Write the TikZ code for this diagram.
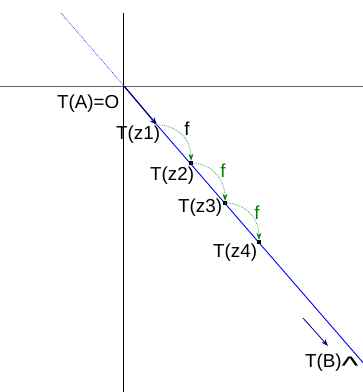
\documentclass[tikz,border=0pt]{standalone}
\usepackage{fontspec}
\usepackage{graphicx}
\setmainfont{Liberation Sans}
\usetikzlibrary{arrows.meta}
\definecolor{navy}{RGB}{0,0,140}
\definecolor{lineblue}{RGB}{0,0,255}
\definecolor{fgreen}{RGB}{0,128,0}
\definecolor{axgray}{RGB}{100,100,100}
\tikzset{
  lbl/.style={inner sep=0pt, anchor=base west, font=\fontsize{18.8}{20}\selectfont},
  flbl/.style={inner sep=0pt, anchor=base, font=\fontsize{18.8}{20}\selectfont},
  fmap/.style={draw=fgreen!70!white, densely dotted, line width=0.8pt,
    -{Stealth[length=7pt,width=5pt,fgreen]}},
  marker/.style={fill=black, inner sep=0pt, minimum size=4pt, draw=none},
}
\begin{document}
\begin{tikzpicture}[x=1pt,y=-1pt]
\useasboundingbox (0,0) rectangle (363,392);
% axes
\coordinate (xl) at (0,86);
\coordinate (xr) at (363,86);
\coordinate (yt) at (123.5,13);
\coordinate (yb) at (123.5,392);
\draw[axgray, line width=0.9pt] (xl) -- (xr);
\draw[black, line width=0.9pt] (yt) -- (yb);
% points
\coordinate (O) at (124,86);
\coordinate (D) at (61,13);
\coordinate (z1) at (157,125);
\coordinate (z2) at (191,163);
\coordinate (z3) at (225,203);
\coordinate (z4) at (259,242);
\coordinate (E) at (372,373);
% lines
\draw[lineblue!85!white, densely dotted, line width=0.7pt] (D) -- (O);
\draw[lineblue, line width=0.9pt] (z1) -- (E);
\draw[navy, line width=1.3pt, -{Stealth[length=8pt,width=6pt]}] (O) -- (z1);
% markers
\node[marker] (m2) at (z2) {};
\node[marker] (m3) at (z3) {};
\node[marker] (m4) at (z4) {};
% f arcs
\draw[fmap] (z1) .. controls (178,125) and (191,140) .. (m2.north);
\draw[fmap] (z2) .. controls (212,163) and (225,180) .. (m3.north);
\draw[fmap] (z3) .. controls (246,203) and (259,219) .. (m4.north);
% labels
\node[lbl] (lA) at (57,108) {T(A)=O};
\node[lbl] (l1) at (116,139) {T(z1)};
\node[lbl] (l2) at (150,180) {T(z2)};
\node[lbl] (l3) at (178,212) {T(z3)};
\node[lbl] (l4) at (213,257) {T(z4)};
\node[lbl] (lB) at (305,367) {T(B)\raisebox{-0.42em}{\scalebox{1.9}[1.35]{\textasciicircum}}};
\node[flbl] (f1) at (187,135) {f};
\node[flbl, text=fgreen] (f2) at (223,177) {f};
\node[flbl, text=fgreen] (f3) at (257,219) {f};
% small arrow near T(B)
\coordinate (s1) at (303,318);
\coordinate (s2) at (328,346);
\draw[navy, line width=0.8pt, -{Stealth[length=7pt,width=5pt]}] (s1) -- (s2);
\end{tikzpicture}
\end{document}
